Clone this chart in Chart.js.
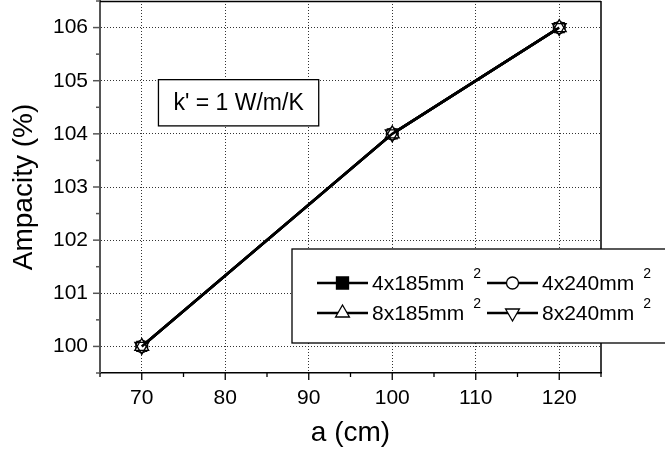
<!DOCTYPE html>
<html>
<head>
  <meta charset="UTF-8">
  <title>Ampacity vs a</title>
  <script src="https://cdn.jsdelivr.net/npm/chart.js"></script>
  <style>
    html, body { margin: 0; padding: 0; background: #fff; }
    #wrap { width: 665px; height: 455px; }
  </style>
</head>
<body>
  <div id="wrap"><canvas id="chart" width="665" height="455"></canvas></div>

  <script>
    // data
    const xValues = [70, 100, 120];
    const amp4x185 = [100, 104, 106];
    const amp4x240 = [100, 104, 106];
    const amp8x185 = [100, 104, 106];
    const amp8x240 = [100, 104, 106];
    const seriesNames = ['4x185mm', '4x240mm', '8x185mm', '8x240mm'];

    const xTicks = [70, 80, 90, 100, 110, 120];
    const xMinor = [65, 75, 85, 95, 105, 115, 125];
    const yTicks = [100, 101, 102, 103, 104, 105, 106];
    const yMinor = [99.5, 100.5, 101.5, 102.5, 103.5, 104.5, 105.5, 106.5];

    const FONT = 'Arial, "Liberation Sans", sans-serif';

    // plot marker / legend marker styles
    const styles = [
      { pointStyle: 'rect', radius: 7, legendRadius: 8.5, rotation: 0, fill: '#000' },
      { pointStyle: 'circle', radius: 6, legendRadius: 6, rotation: 0, fill: '#fff' },
      { pointStyle: 'triangle', radius: 8, legendRadius: 8, rotation: 0, fill: '#fff' },
      { pointStyle: 'triangle', radius: 8, legendRadius: 8, rotation: 180, fill: 'rgba(0,0,0,0)' }
    ];

    const allSeries = [amp4x185, amp4x240, amp8x185, amp8x240];
    const datasets = allSeries.map((vals, i) => ({
      label: seriesNames[i],
      data: xValues.map((x, k) => ({ x: x, y: vals[k] })),
      borderColor: '#000',
      borderWidth: 2.5,
      pointStyle: styles[i].pointStyle,
      pointRadius: styles[i].radius,
      pointRotation: styles[i].rotation,
      pointBackgroundColor: styles[i].fill,
      pointBorderColor: '#000',
      pointBorderWidth: 1.3,
      tension: 0,
      clip: false,
      order: 3 - i
    }));

    // frame, minor ticks, legend and the k' text box
    const extras = {
      id: 'extras',
      afterDraw(chart) {
        const ctx = chart.ctx;
        const a = chart.chartArea;
        const xs = chart.scales.x, ys = chart.scales.y;

        ctx.save();
        // top and right frame
        ctx.strokeStyle = '#000';
        ctx.lineWidth = 1.5;
        ctx.beginPath();
        ctx.moveTo(a.left, a.top + 0.5);
        ctx.lineTo(a.right, a.top + 0.5);
        ctx.moveTo(a.right, a.top);
        ctx.lineTo(a.right, a.bottom);
        ctx.stroke();

        // x ticks (outward)
        ctx.lineWidth = 1.3;
        xTicks.forEach(v => {
          const p = xs.getPixelForValue(v);
          ctx.beginPath(); ctx.moveTo(p, a.bottom); ctx.lineTo(p, a.bottom + 7); ctx.stroke();
        });
        xMinor.forEach(v => {
          const p = xs.getPixelForValue(v);
          ctx.beginPath(); ctx.moveTo(p, a.bottom); ctx.lineTo(p, a.bottom + 4); ctx.stroke();
        });
        // y ticks (outward)
        ctx.strokeStyle = '#555';
        ctx.lineWidth = 1.5;
        yTicks.forEach(v => {
          const p = ys.getPixelForValue(v);
          ctx.beginPath(); ctx.moveTo(a.left, p); ctx.lineTo(a.left - 7, p); ctx.stroke();
        });
        yMinor.forEach(v => {
          const p = ys.getPixelForValue(v);
          ctx.beginPath(); ctx.moveTo(a.left, p); ctx.lineTo(a.left - 4, p); ctx.stroke();
        });

        // text box
        const label = "k' = 1 W/m/K";
        ctx.font = '23px ' + FONT;
        const bx = xs.getPixelForValue(72);
        const by = ys.getPixelForValue(105.02);
        const bh = ys.getPixelForValue(104.15) - by;
        const bw = ctx.measureText(label).width + 30;
        ctx.fillStyle = '#fff';
        ctx.fillRect(bx, by, bw, bh);
        ctx.strokeStyle = '#000';
        ctx.lineWidth = 1.3;
        ctx.strokeRect(bx, by, bw, bh);
        ctx.fillStyle = '#000';
        ctx.textBaseline = 'middle';
        ctx.textAlign = 'left';
        ctx.fillText(label, bx + 15, by + bh / 2 + 1);

        // legend
        const lx = a.left + 192, ly = a.top + 248;
        ctx.fillStyle = '#fff';
        ctx.fillRect(lx, ly, 400, 94);
        ctx.strokeStyle = '#000';
        ctx.lineWidth = 1.3;
        ctx.strokeRect(lx, ly, 400, 94);
        const cols = [lx + 25, lx + 195];
        const rows = [ly + 34, ly + 64];
        chart.data.datasets.forEach((ds, i) => {
          const x0 = cols[i % 2], y0 = rows[Math.floor(i / 2)];
          ctx.strokeStyle = '#000';
          ctx.lineWidth = 2.5;
          ctx.beginPath(); ctx.moveTo(x0, y0); ctx.lineTo(x0 + 51, y0); ctx.stroke();
          ctx.fillStyle = styles[i].fill === 'rgba(0,0,0,0)' ? '#fff' : styles[i].fill;
          ctx.lineWidth = 1.3;
          Chart.helpers.drawPoint(ctx, {
            pointStyle: styles[i].pointStyle,
            radius: styles[i].legendRadius,
            rotation: styles[i].rotation,
            borderWidth: 1.3
          }, x0 + 25.5, y0);
          ctx.fillStyle = '#000';
          ctx.font = '21px ' + FONT;
          ctx.textBaseline = 'middle';
          ctx.fillText(ds.label, x0 + 55, y0 + 1);
          const w = ctx.measureText(ds.label).width;
          ctx.font = '14px ' + FONT;
          ctx.fillText('2', x0 + 55 + w + 9, y0 - 9);
        });
        ctx.restore();
      }
    };

    new Chart(document.getElementById('chart'), {
      type: 'line',
      data: { datasets: datasets },
      options: {
        responsive: false,
        animation: false,
        layout: { autoPadding: false, padding: { top: 1, right: 64, left: 0, bottom: 0 } },
        plugins: { legend: { display: false }, tooltip: { enabled: false } },
        scales: {
          x: {
            type: 'linear',
            min: 65,
            max: 125,
            afterBuildTicks: s => { s.ticks = xTicks.map(v => ({ value: v })); },
            afterFit: s => { s.height = 82; s.paddingLeft = 0; s.paddingRight = 0; },
            grid: { color: '#333', lineWidth: 1, drawTicks: false },
            border: { color: '#000', width: 1.5, dash: [1, 2] },
            ticks: { color: '#000', padding: 13, maxRotation: 0, font: { family: FONT, size: 21 } },
            title: { display: true, text: 'a (cm)', color: '#000', padding: { top: 0, bottom: 5 }, font: { family: FONT, size: 28 } }
          },
          y: {
            min: 99.5,
            max: 106.5,
            afterBuildTicks: s => { s.ticks = yTicks.map(v => ({ value: v })); },
            afterFit: s => { s.width = 100; s.paddingTop = 0; s.paddingBottom = 0; },
            grid: { color: '#333', lineWidth: 1, drawTicks: false },
            border: { color: '#555', width: 2, dash: [1, 2] },
            ticks: { color: '#000', padding: 12, font: { family: FONT, size: 21 } },
            title: { display: true, text: 'Ampacity (%)', color: '#000', padding: { top: 7, bottom: 0 }, font: { family: FONT, size: 28 } }
          }
        }
      },
      plugins: [extras]
    });
  </script>
</body>
</html>
